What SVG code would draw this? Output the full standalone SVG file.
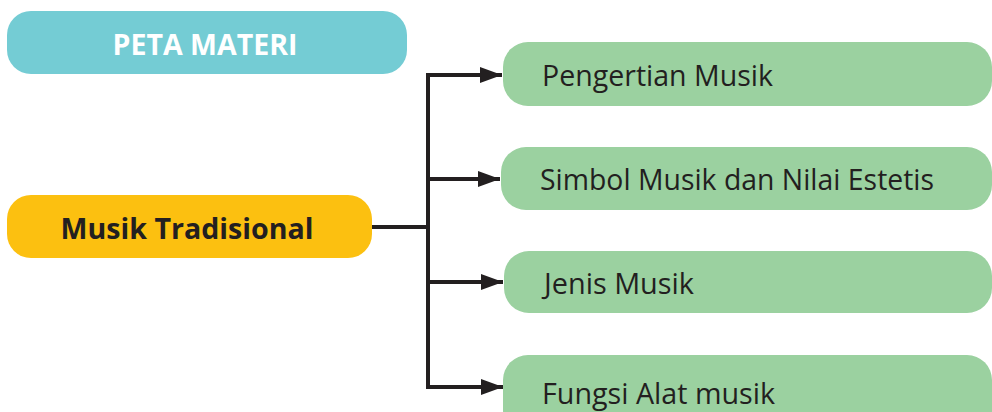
<svg xmlns="http://www.w3.org/2000/svg" width="992" height="412" viewBox="0 0 992 412">
<defs>
<style>
.lbl{font-family:"Open Sans","Noto Sans",sans-serif;font-size:29px;fill:#231F20}
.green{fill:#9BD1A0}
.conn{stroke:#231F20;stroke-width:4;fill:none}
</style>
<marker id="ah" viewBox="0 0 22 16" refX="22" refY="8" markerWidth="22" markerHeight="16" markerUnits="userSpaceOnUse" orient="auto">
<path d="M0,0 L22,8 L0,16 Z" fill="#231F20"/>
</marker>
</defs>
<rect width="992" height="412" fill="#FFFFFF"/>
<g id="peta-materi">
<rect x="7" y="11" width="400" height="63" rx="24" fill="#74CCD4"/>
<text x="205" y="55" text-anchor="middle" font-family="'Open Sans','Noto Sans',sans-serif" font-weight="bold" font-size="29" fill="#FFFFFF" textLength="185" lengthAdjust="spacingAndGlyphs">PETA MATERI</text>
</g>
<g id="musik-tradisional">
<rect x="7" y="195" width="365" height="63" rx="24" fill="#FCC010"/>
<text x="187" y="239" text-anchor="middle" font-family="'Open Sans','Noto Sans',sans-serif" font-weight="bold" font-size="29" fill="#231F20" textLength="253" lengthAdjust="spacingAndGlyphs">Musik  Tradisional</text>
</g>
<g id="connectors">
<path class="conn" d="M372,227 H428"/>
<path class="conn" d="M428,73 V389"/>
<path class="conn" d="M426,75 H502" marker-end="url(#ah)"/>
<path class="conn" d="M428,179 H500" marker-end="url(#ah)"/>
<path class="conn" d="M428,282 H503" marker-end="url(#ah)"/>
<path class="conn" d="M426,387 H503" marker-end="url(#ah)"/>
</g>
<g id="pengertian-musik">
<rect class="green" x="503" y="42" width="489" height="64" rx="25"/>
<text class="lbl" x="542" y="86" textLength="231" lengthAdjust="spacingAndGlyphs">Pengertian Musik</text>
</g>
<g id="simbol-musik">
<rect class="green" x="501" y="147" width="491" height="63" rx="25"/>
<text class="lbl" x="540" y="190" textLength="394" lengthAdjust="spacingAndGlyphs">Simbol Musik dan Nilai Estetis</text>
</g>
<g id="jenis-musik">
<rect class="green" x="504" y="251" width="488" height="62" rx="25"/>
<text class="lbl" x="544" y="294" textLength="150" lengthAdjust="spacingAndGlyphs">Jenis Musik</text>
</g>
<g id="fungsi-alat-musik">
<rect class="green" x="503" y="355" width="489" height="80" rx="25"/>
<text class="lbl" x="542" y="404" textLength="233" lengthAdjust="spacingAndGlyphs">Fungsi Alat musik</text>
</g>
</svg>
